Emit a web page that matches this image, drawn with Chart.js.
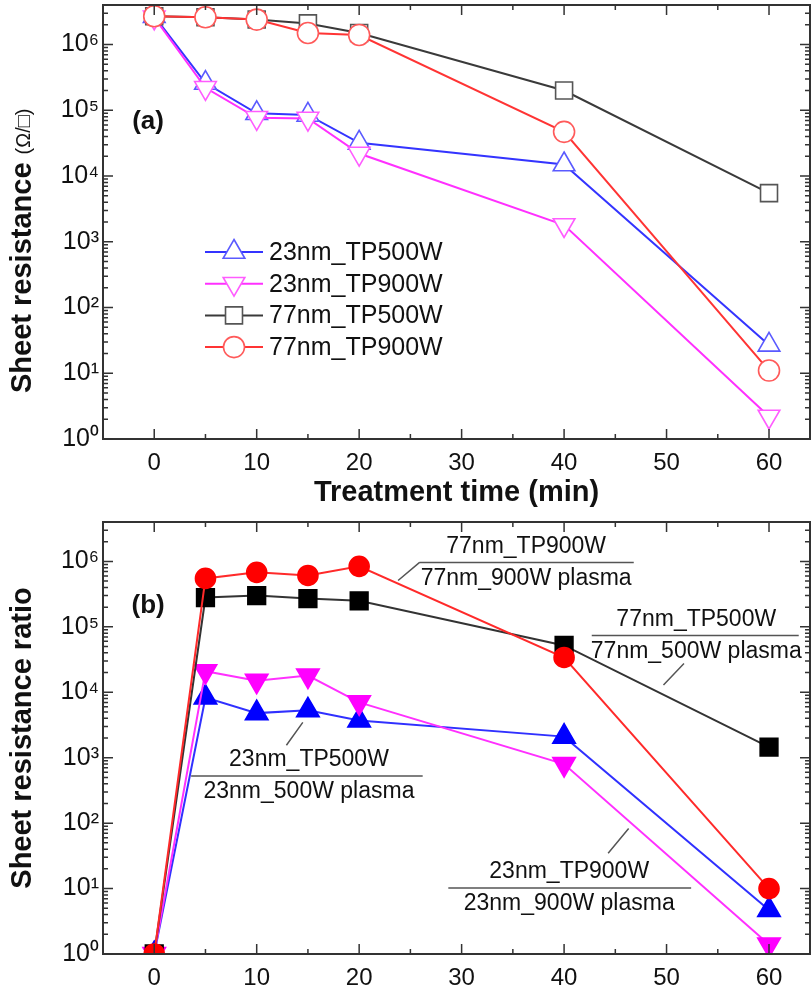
<!DOCTYPE html>
<html>
<head>
<meta charset="utf-8">
<script src="https://cdn.jsdelivr.net/npm/chart.js@4.4.1/dist/chart.umd.min.js"></script>
<style>
  html, body { margin: 0; padding: 0; background: #fff; overflow: hidden; }
  #wrapA { position: absolute; left: 0; top: 0; width: 812px; height: 510px; }
  #wrapB { position: absolute; left: 0; top: 505px; width: 812px; height: 484px; }
</style>
</head>
<body>
<div id="wrapA"><canvas id="chartA"></canvas></div>
<div id="wrapB"><canvas id="chartB"></canvas></div>
<script>
var times = [0, 5, 10, 15, 20, 40, 60];
var xTicks = [0, 10, 20, 30, 40, 50, 60];
var decades = [1, 10, 100, 1e3, 1e4, 1e5, 1e6];
var seriesNames = ['23nm_TP500W', '23nm_TP900W', '77nm_TP500W', '77nm_TP900W'];

// (a) sheet resistance, ohm/sq
var res23_500 = [2.7e6, 2.6e5, 9.0e4, 8.5e4, 3.2e4, 1.5e4, 27];
var res23_900 = [2.6e6, 2.2e5, 7.7e4, 7.5e4, 2.2e4, 1.8e3, 2.2];
var res77_500 = [2.7e6, 2.6e6, 2.4e6, 2.1e6, 1.5e6, 2.0e5, 5.5e3];
var res77_900 = [2.7e6, 2.6e6, 2.4e6, 1.5e6, 1.4e6, 4.7e4, 11];

// (b) sheet resistance ratio
var ratio23_500 = [1, 8.3e3, 4.8e3, 5.3e3, 3.7e3, 2.1e3, 4.7];
var ratio23_900 = [1, 2.1e4, 1.5e4, 1.8e4, 7.0e3, 8.0e2, 1.4];
var ratio77_500 = [1, 2.8e5, 3.0e5, 2.7e5, 2.5e5, 5.2e4, 1.45e3];
var ratio77_900 = [1, 5.5e5, 6.8e5, 6.1e5, 8.4e5, 3.4e4, 10];

// fraction labels of panel (b), placed in data space
var ratioNotes = [
  { num: '77nm_TP900W', den: '77nm_900W plasma', x: 36.3, y: 9.66e5, x1: 25.9, x2: 46.8, lead: [23.8, 5.1e5, 25.9, 9.66e5] },
  { num: '77nm_TP500W', den: '77nm_500W plasma', x: 52.9, y: 7.4e4, x1: 42.7, x2: 62.9, lead: [49.7, 1.29e4, 51.7, 2.75e4] },
  { num: '23nm_TP500W', den: '23nm_500W plasma', x: 15.1, y: 525, x1: 3.6, x2: 26.2, lead: [12.9, 1.55e3, 14.5, 3.47e3] },
  { num: '23nm_TP900W', den: '23nm_900W plasma', x: 40.5, y: 10.2, x1: 28.7, x2: 52.4, lead: [44.3, 34.7, 46.3, 83] }
];

var FONT = "'Liberation Sans', Arial, sans-serif";
var INK = '#111';
var sup = ['\u2070', '\u00b9', '\u00b2', '\u00b3', '\u2074', '\u2075', '\u2076'];
Chart.defaults.font.family = FONT;

function xAxis(titleText, h) {
  return {
    type: 'linear', min: -5, max: 64,
    afterBuildTicks: function (s) { s.ticks = xTicks.map(function (v) { return { value: v }; }); },
    afterFit: function (s) { s.height = h; s.paddingLeft = 0; s.paddingRight = 0; },
    grid: { display: false, drawTicks: false },
    border: { display: false },
    ticks: { padding: 10, maxRotation: 0, autoSkip: false, color: INK, font: { size: 24 } },
    title: { display: !!titleText, text: titleText || '', color: INK, font: { size: 29, weight: 'bold' }, padding: { top: 0, bottom: 0 } }
  };
}

function yAxis(titleText) {
  return {
    type: 'logarithmic', min: 1, max: 4e6,
    afterBuildTicks: function (s) { s.ticks = decades.map(function (v) { return { value: v }; }); },
    afterFit: function (s) { s.width = 103; s.paddingTop = 0; s.paddingBottom = 0; },
    grid: { display: false, drawTicks: false },
    border: { display: false },
    ticks: {
      padding: 4, color: INK, font: { size: 25 },
      callback: function (v) { return '10' + sup[Math.round(Math.log10(v))]; }
    },
    title: { display: !!titleText, text: titleText || '', color: INK, font: { size: 29, weight: 'bold' }, padding: { top: 6, bottom: 0 } }
  };
}

// box around the plot with inward ticks on all four sides
var frame = {
  id: 'frame',
  afterDatasetsDraw: function (chart) {
    var a = chart.chartArea, ctx = chart.ctx, xs = chart.scales.x, ys = chart.scales.y;
    ctx.save();
    ctx.strokeStyle = '#333';
    ctx.lineWidth = 2;
    ctx.strokeRect(a.left, a.top, a.right - a.left, a.bottom - a.top);
    ctx.lineWidth = 1.5;
    ctx.beginPath();
    for (var v = 0; v <= 60; v += 5) {
      var px = xs.getPixelForValue(v), len = v % 10 === 0 ? 10 : 5;
      ctx.moveTo(px, a.bottom); ctx.lineTo(px, a.bottom - len);
      ctx.moveTo(px, a.top); ctx.lineTo(px, a.top + len);
    }
    for (var e = 0; e <= 6; e++) {
      for (var m = 1; m <= 9; m++) {
        var val = m * Math.pow(10, e);
        if (val > ys.max) break;
        var py = ys.getPixelForValue(val), l = m === 1 ? 10 : 5;
        ctx.moveTo(a.left, py); ctx.lineTo(a.left + l, py);
        ctx.moveTo(a.right, py); ctx.lineTo(a.right - l, py);
      }
    }
    ctx.stroke();
    ctx.restore();
  }
};

var panelTag = {
  id: 'panelTag',
  afterDraw: function (chart, args, opts) {
    var ctx = chart.ctx;
    ctx.save();
    ctx.font = 'bold 26px ' + FONT;
    ctx.fillStyle = INK;
    ctx.textAlign = 'center';
    ctx.textBaseline = 'middle';
    ctx.fillText(opts.text, chart.scales.x.getPixelForValue(opts.x), chart.scales.y.getPixelForValue(opts.y));
    ctx.restore();
  }
};

// y title of panel (a): bold words with the unit set smaller
var unitTitle = {
  id: 'unitTitle',
  afterDraw: function (chart) {
    var ctx = chart.ctx, a = chart.chartArea;
    var main = 'Sheet resistance ', unit = '(\u03a9/\u25a1)';
    ctx.save();
    ctx.translate(23, a.bottom - 46);
    ctx.rotate(-Math.PI / 2);
    ctx.fillStyle = INK;
    ctx.textBaseline = 'middle';
    ctx.font = 'bold 29px ' + FONT;
    ctx.fillText(main, 0, 0);
    var w = ctx.measureText(main).width;
    ctx.font = '20px ' + FONT;
    ctx.fillText(unit, w, 1);
    ctx.restore();
  }
};

// legend drawn inside panel (a)
var legendA = {
  id: 'legendA',
  afterDraw: function (chart) {
    var ctx = chart.ctx, a = chart.chartArea;
    var x0 = a.left + 102, x1 = a.left + 160, y0 = a.top + 247, gap = 31.7;
    chart.data.datasets.forEach(function (ds, i) {
      var y = y0 + gap * i;
      ctx.save();
      ctx.strokeStyle = ds.borderColor;
      ctx.lineWidth = ds.borderWidth;
      ctx.beginPath(); ctx.moveTo(x0, y); ctx.lineTo(x1, y); ctx.stroke();
      ctx.fillStyle = ds.pointBackgroundColor;
      ctx.strokeStyle = ds.pointBorderColor;
      ctx.lineWidth = ds.pointBorderWidth;
      Chart.helpers.drawPoint(ctx, { pointStyle: ds.pointStyle, rotation: ds.pointRotation || 0, radius: ds.pointRadius, borderWidth: ds.pointBorderWidth }, (x0 + x1) / 2, y);
      ctx.font = '25px ' + FONT;
      ctx.fillStyle = INK;
      ctx.textBaseline = 'middle';
      ctx.fillText(ds.label, x1 + 6, y + 1);
      ctx.restore();
    });
  }
};

var notesB = {
  id: 'notesB',
  afterDraw: function (chart) {
    var ctx = chart.ctx, xs = chart.scales.x, ys = chart.scales.y;
    ctx.save();
    ctx.strokeStyle = '#555';
    ctx.lineWidth = 1.5;
    ctx.fillStyle = INK;
    ctx.font = '23px ' + FONT;
    ctx.textAlign = 'center';
    ctx.textBaseline = 'middle';
    ratioNotes.forEach(function (n) {
      var cx = xs.getPixelForValue(n.x), ly = ys.getPixelForValue(n.y);
      ctx.beginPath();
      ctx.moveTo(xs.getPixelForValue(n.x1), ly);
      ctx.lineTo(xs.getPixelForValue(n.x2), ly);
      ctx.moveTo(xs.getPixelForValue(n.lead[0]), ys.getPixelForValue(n.lead[1]));
      ctx.lineTo(xs.getPixelForValue(n.lead[2]), ys.getPixelForValue(n.lead[3]));
      ctx.stroke();
      ctx.fillText(n.num, cx, ly - 16);
      ctx.fillText(n.den, cx, ly + 16);
    });
    ctx.restore();
  }
};

function series(label, data, line, mark, fill, style, rot, r, order) {
  return {
    label: label, data: data.map(function (v, i) { return { x: times[i], y: v }; }),
    borderColor: line, borderWidth: 2,
    pointStyle: style, pointRotation: rot, pointRadius: r,
    pointBorderColor: mark, pointBackgroundColor: fill, pointBorderWidth: 1.6,
    order: order
  };
}

function baseOptions(pad, xTitle, xh, yTitle) {
  return {
    responsive: true, maintainAspectRatio: false, animation: false,
    layout: { padding: pad, autoPadding: false },
    plugins: { legend: { display: false }, tooltip: { enabled: false } },
    scales: { x: xAxis(xTitle, xh), y: yAxis(yTitle) }
  };
}

var optsA = baseOptions({ top: 5, right: 2, left: 0, bottom: 0 }, 'Treatment time (min)', 71, null);
optsA.plugins.panelTag = { text: '(a)', x: -0.6, y: 6.7e4 };

new Chart(document.getElementById('chartA'), {
  type: 'line',
  data: {
    datasets: [
      series(seriesNames[0], res23_500, '#3434ff', '#5a5aff', '#fff', 'triangle', 0, 12.5, 3),
      series(seriesNames[1], res23_900, '#ff30ff', '#ff5cff', '#fff', 'triangle', 180, 12.5, 2),
      series(seriesNames[2], res77_500, '#3a3a3a', '#555', '#fff', 'rect', 0, 12, 1),
      series(seriesNames[3], res77_900, '#ff3434', '#ff5a5a', '#fff', 'circle', 0, 10.5, 0)
    ]
  },
  options: optsA,
  plugins: [frame, panelTag, legendA, unitTitle]
});

var optsB = baseOptions({ top: 17, right: 2, left: 0, bottom: 0 }, null, 35, 'Sheet resistance ratio');
optsB.plugins.panelTag = { text: '(b)', x: -0.6, y: 2.1e5 };

var dsB = [
  series(seriesNames[0], ratio23_500, '#3030ff', '#0000ff', '#0000ff', 'triangle', 0, 13, 3),
  series(seriesNames[1], ratio23_900, '#ff30ff', '#ff00ff', '#ff00ff', 'triangle', 180, 13, 2),
  series(seriesNames[2], ratio77_500, '#333', '#000', '#000', 'rect', 0, 12.5, 1),
  series(seriesNames[3], ratio77_900, '#ff2a2a', '#ff0000', '#ff0000', 'circle', 0, 10, 0)
];
dsB.forEach(function (d) { d.clip = 0; });

new Chart(document.getElementById('chartB'), {
  type: 'line',
  data: { datasets: dsB },
  options: optsB,
  plugins: [frame, panelTag, notesB]
});
</script>
</body>
</html>
